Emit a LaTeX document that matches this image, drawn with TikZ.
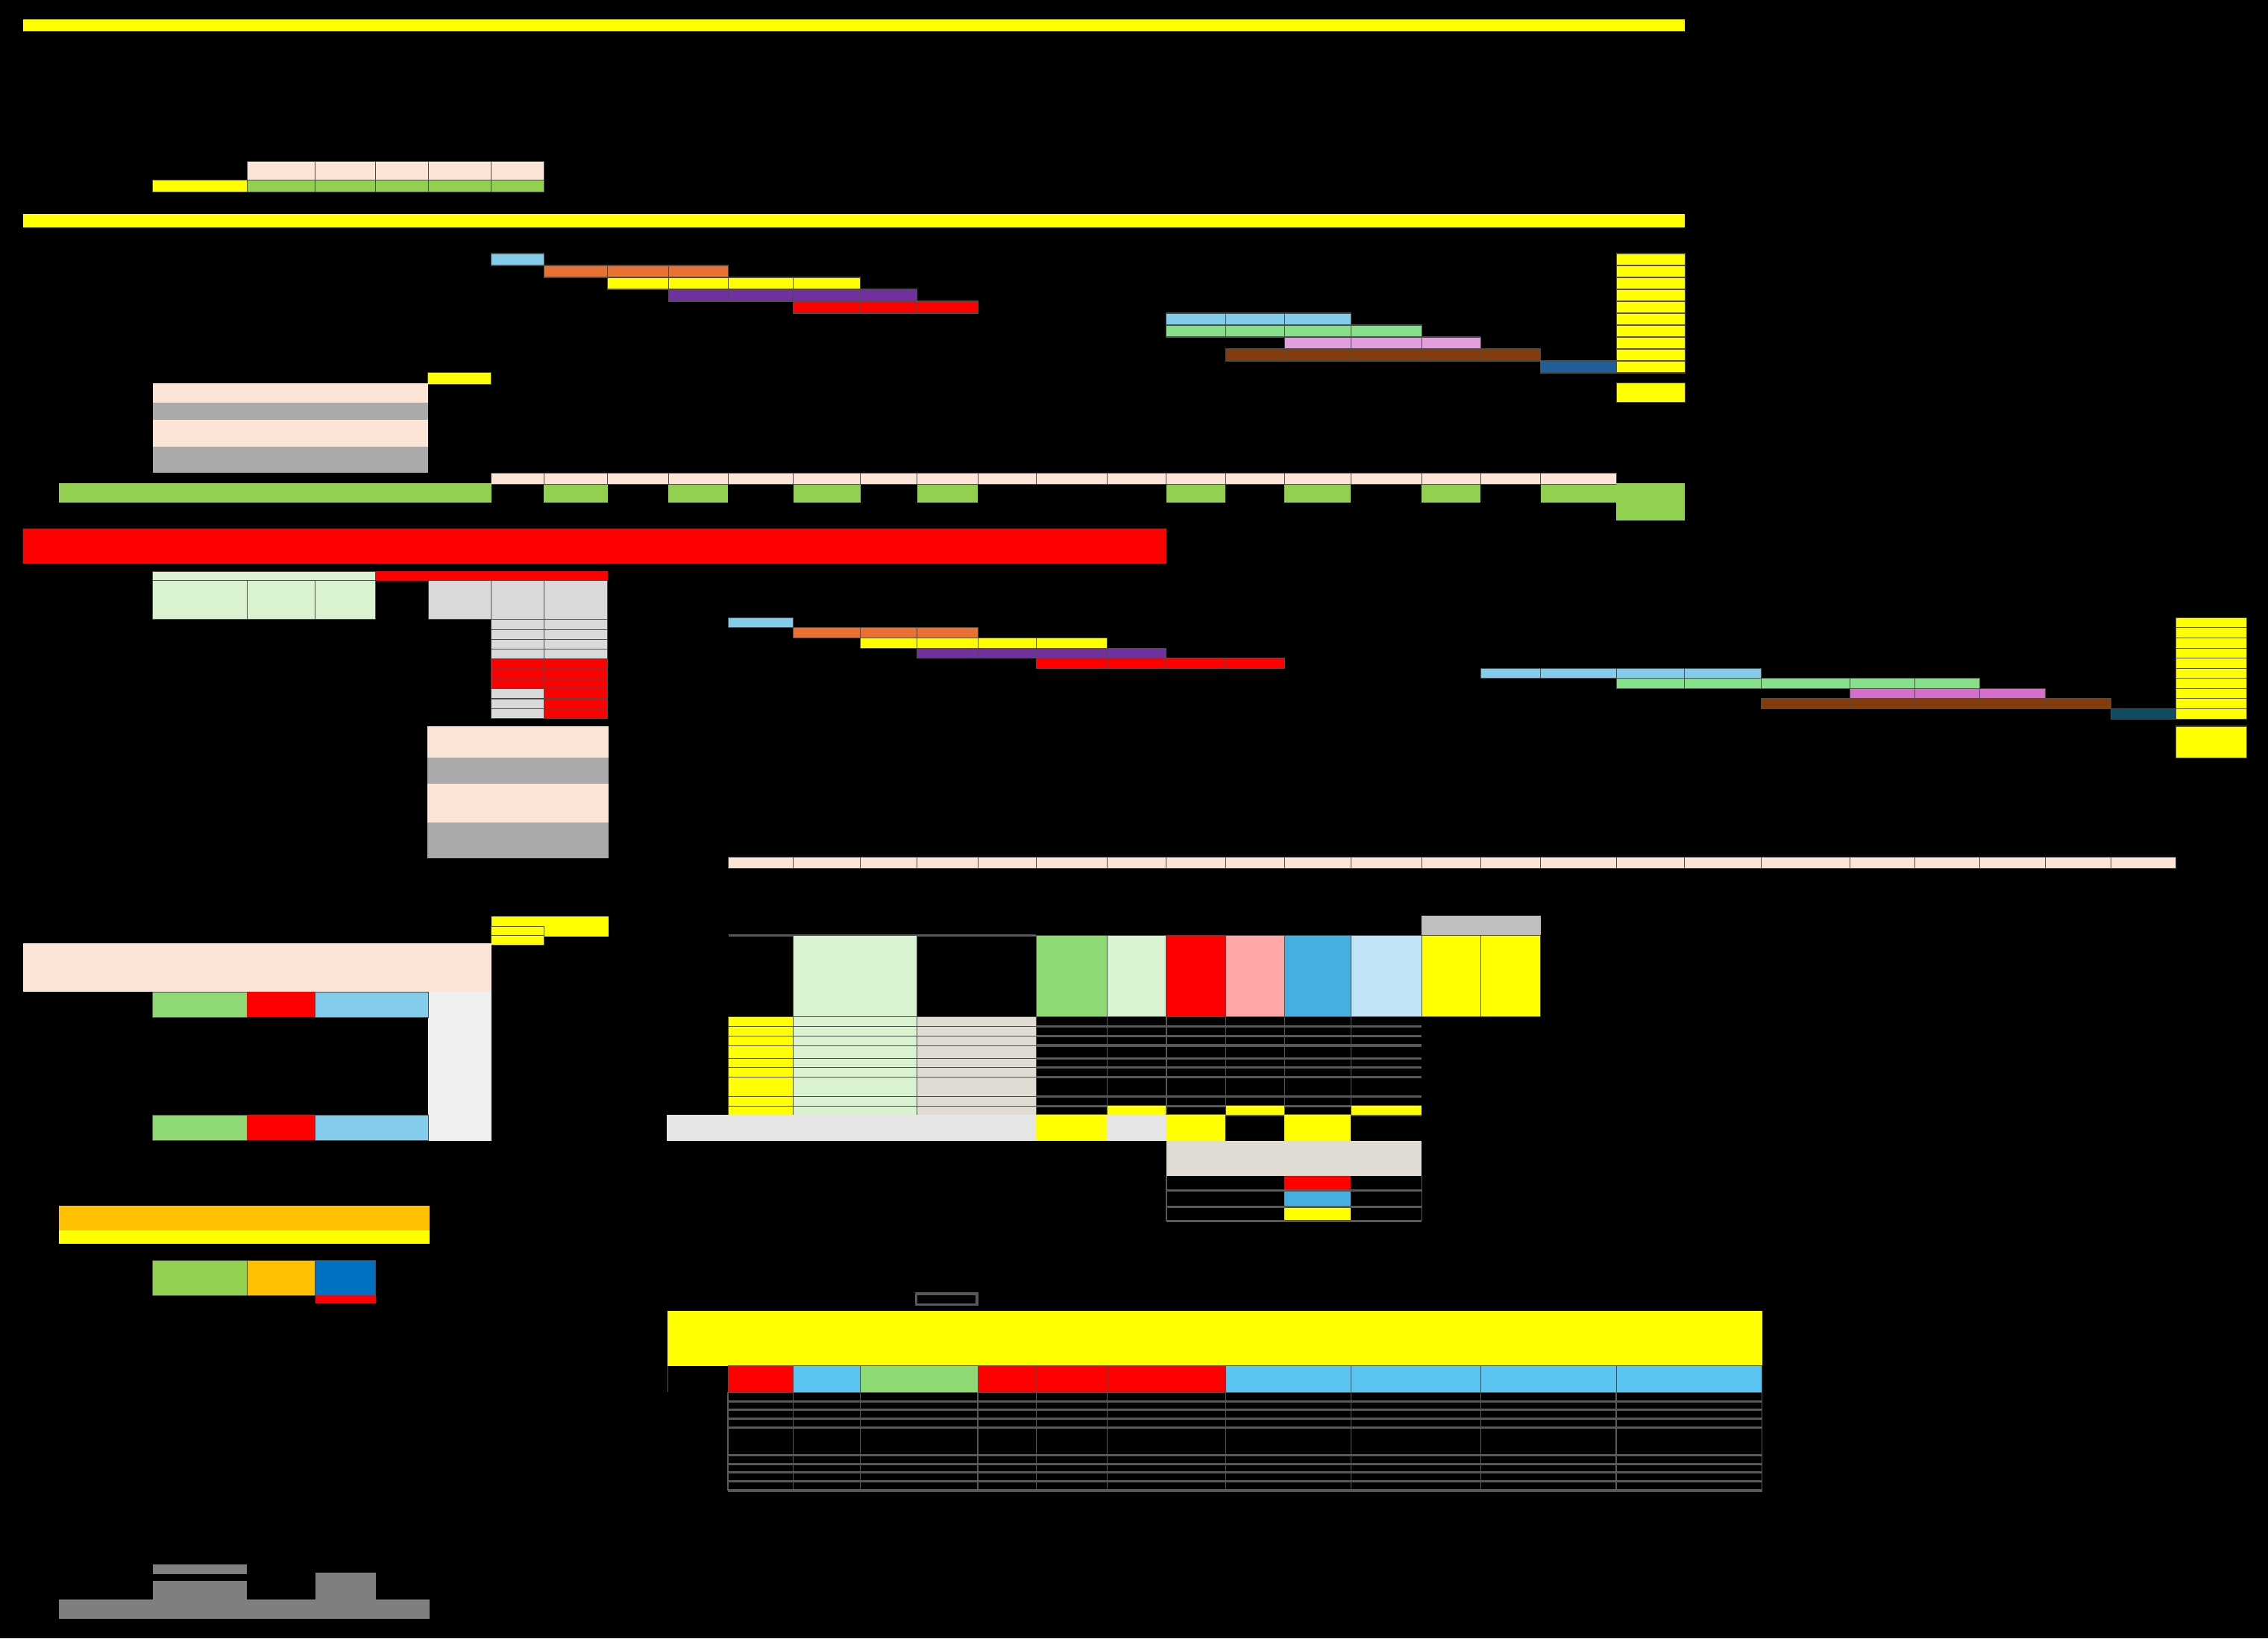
\documentclass[tikz,border=0pt]{standalone}
\definecolor{peach}{HTML}{FCE4D6}
\definecolor{lime}{HTML}{92D050}
\definecolor{yel}{HTML}{FFFF00}
\definecolor{skyb}{HTML}{83CCEB}
\definecolor{orng}{HTML}{E97132}
\definecolor{purp}{HTML}{7030A0}
\definecolor{mint}{HTML}{86E08A}
\definecolor{orchid}{HTML}{E49EDD}
\definecolor{orchidb}{HTML}{D86ECC}
\definecolor{brwn}{HTML}{843C0C}
\definecolor{navy}{HTML}{215F9A}
\definecolor{teal}{HTML}{0F4C66}
\definecolor{midgray}{HTML}{AAAAAA}
\definecolor{ltgray}{HTML}{D9D9D9}
\definecolor{palegreen}{HTML}{D9F2D0}
\definecolor{whitegray}{HTML}{F0F0F0}
\definecolor{bargray}{HTML}{E6E6E6}
\definecolor{beige}{HTML}{E0DCD3}
\definecolor{rose}{HTML}{FFA7A7}
\definecolor{ocean}{HTML}{44B0E0}
\definecolor{paleblue}{HTML}{C0E4F5}
\definecolor{silver}{HTML}{BFBFBF}
\definecolor{cyanb}{HTML}{5BC5F2}
\definecolor{gold}{HTML}{FFC000}
\definecolor{royal}{HTML}{0070C0}
\definecolor{darkgray}{HTML}{7F7F7F}
\definecolor{gridgray}{HTML}{595959}
\definecolor{grass}{HTML}{8ED973}
\tikzset{
  cell/.style={draw=black!70, line width=0.3pt},
  flat/.style={draw=none},
  gridline/.style={draw=gridgray, line width=0.9pt}
}
\begin{document}
\begin{tikzpicture}[x=0.02cm,y=-0.02cm]
    % fundo
    \fill[black] (0,0) rectangle (1568,1133);
    % bloco 1
    \fill[yel] (16,13.4) rectangle (1165,21.9);
    \foreach \a/\b in {170.7/218,218/259.7,259.7/296,296/339.7,339.7/376} {
      \draw[cell,fill=peach] (\a,111.5) rectangle (\b,124.3);
      \draw[cell,fill=lime] (\a,124.3) rectangle (\b,133);
    }
    \draw[cell,fill=yel] (105.5,124.3) rectangle (170.7,133);
    \fill[yel] (16,147.8) rectangle (1165,157.3);
    % cronograma 1
    \draw[cell,fill=skyb] (339.7,175.3) rectangle (376,183.55);
    \foreach \a/\b in {376/420,420/462,462/503.3}
      \draw[cell,fill=orng] (\a,183.55) rectangle (\b,191.8);
    \foreach \a/\b in {420/462,462/503.3,503.3/548.4,548.4/594.8}
      \draw[cell,fill=yel] (\a,191.8) rectangle (\b,200.05);
    \foreach \a/\b in {462/503.3,503.3/548.4,548.4/594.8,594.8/634}
      \draw[cell,fill=purp] (\a,200.05) rectangle (\b,208.3);
    \foreach \a/\b in {548.4/594.8,594.8/634,634/676}
      \draw[cell,fill=red] (\a,208.3) rectangle (\b,216.55);
    \foreach \a/\b in {806.4/847.3,847.3/888,888/934}
      \draw[cell,fill=skyb] (\a,216.55) rectangle (\b,224.8);
    \foreach \a/\b in {806.4/847.3,847.3/888,888/934,934/983}
      \draw[cell,fill=mint] (\a,224.8) rectangle (\b,233.05);
    \foreach \a/\b in {888/934,934/983,983/1023.6}
      \draw[cell,fill=orchid] (\a,233.05) rectangle (\b,241.3);
    \foreach \a/\b in {847.3/888,888/934,934/983,983/1023.6,1023.6/1065}
      \draw[cell,fill=brwn] (\a,241.3) rectangle (\b,249.55);
    \draw[cell,fill=navy] (1065,249.55) rectangle (1117.4,257.8);
    \foreach \k in {0,...,9}
      \draw[cell,fill=yel] (1117.4,{175.3+8.25*\k}) rectangle (1165,{183.55+8.25*\k});
    \draw[cell,fill=yel] (1117.4,265) rectangle (1165,278.4);
    \draw[cell,fill=yel] (295.6,257.4) rectangle (339.7,266);
    % pilha da esquerda
    \fill[peach] (105.5,265) rectangle (296,278.5);
    \fill[midgray] (105.5,278.5) rectangle (296,290.5);
    \fill[peach] (105.5,290.5) rectangle (296,309);
    \fill[midgray] (105.5,309) rectangle (296,327);
    % linha de dias
    \foreach \a/\b in {339.7/376,376/420,420/462,462/503.3,503.3/548.4,548.4/594.8,594.8/634,634/676,676/716.4,716.4/765.3,765.3/806.4,806.4/847.3,847.3/888,888/934,934/983,983/1023.6,1023.6/1065,1065/1117.4}
      \draw[cell,fill=peach] (\a,327) rectangle (\b,335);
    \foreach \a/\b in {376/420,462/503.3,548.4/594.8,634/676,806.4/847.3,888/934,983/1023.6,1065/1117.4}
      \fill[lime] (\a,335) rectangle (\b,347.5);
    \fill[lime] (40.7,334.2) rectangle (339.7,347.6);
    \fill[lime] (1117.4,334) rectangle (1165,360);
    % bloco 2
    \fill[red] (16,365.4) rectangle (806.4,389.6);
    \draw[cell,fill=palegreen] (105.5,395) rectangle (259.7,401.5);
    \fill[red] (259.7,395) rectangle (420,401.5);
    \foreach \a/\b in {105.5/170.7,170.7/218,218/259.7}
      \draw[cell,fill=palegreen] (\a,401.5) rectangle (\b,428.4);
    \foreach \a/\b in {296/339.7,339.7/376,376/420}
      \draw[cell,fill=ltgray] (\a,401.5) rectangle (\b,428.4);
    \foreach \k in {0,...,9} {
      \pgfmathsetmacro{\ya}{428.4+6.84*\k}
      \pgfmathsetmacro{\yb}{435.24+6.84*\k}
      \ifnum\k<4 \def\cl{ltgray}\def\cr{ltgray}\else
        \ifnum\k<7 \def\cl{red}\def\cr{red}\else \def\cl{ltgray}\def\cr{red}\fi\fi
      \draw[cell,fill=\cl] (339.7,\ya) rectangle (376,\yb);
      \draw[cell,fill=\cr] (376,\ya) rectangle (420,\yb);
    }
    \fill[peach] (295.6,502) rectangle (420.5,523.7);
    \fill[midgray] (295.6,523.7) rectangle (420.5,541.8);
    \fill[peach] (295.6,541.8) rectangle (420.5,568.7);
    \fill[midgray] (295.6,568.7) rectangle (420.5,593.5);
    % cronograma 2
    \draw[cell,fill=skyb] (503.5,427.1) rectangle (548.4,434.1);
    \foreach \a/\b in {548.4/594.8,594.8/634,634/676}
      \draw[cell,fill=orng] (\a,434.1) rectangle (\b,441.1);
    \foreach \a/\b in {594.8/634,634/676,676/716.4,716.4/765.3}
      \draw[cell,fill=yel] (\a,441.1) rectangle (\b,448.1);
    \foreach \a/\b in {634/676,676/716.4,716.4/765.3,765.3/806.4}
      \draw[cell,fill=purp] (\a,448.1) rectangle (\b,455.1);
    \foreach \a/\b in {716.4/765.3,765.3/806.4,806.4/847.3,847.3/888}
      \draw[cell,fill=red] (\a,455.1) rectangle (\b,462.1);
    \foreach \a/\b in {1023.6/1065,1065/1117.4,1117.4/1164.4,1164.4/1217.4}
      \draw[cell,fill=skyb] (\a,462.1) rectangle (\b,469.1);
    \foreach \a/\b in {1117.4/1164.4,1164.4/1217.4,1217.4/1278.9,1278.9/1323.8,1323.8/1368.6}
      \draw[cell,fill=mint] (\a,469.1) rectangle (\b,476.1);
    \foreach \a/\b in {1278.9/1323.8,1323.8/1368.6,1368.6/1413.9}
      \draw[cell,fill=orchidb] (\a,476.1) rectangle (\b,483.1);
    \foreach \a/\b in {1217.4/1278.9,1278.9/1323.8,1323.8/1368.6,1368.6/1413.9,1413.9/1459.4}
      \draw[cell,fill=brwn] (\a,483.1) rectangle (\b,490.1);
    \draw[cell,fill=teal] (1459.4,490.1) rectangle (1504.2,497.1);
    \foreach \k in {0,...,9}
      \draw[cell,fill=yel] (1504.2,{427.1+7*\k}) rectangle (1553.4,{434.1+7*\k});
    \draw[cell,fill=yel] (1504.2,502.2) rectangle (1553.4,523.9);
    \foreach \a/\b in {503.5/548.4,548.4/594.8,594.8/634,634/676,676/716.4,716.4/765.3,765.3/806.4,806.4/847.3,847.3/888,888/934,934/983,983/1023.6,1023.6/1065,1065/1117.4,1117.4/1164.4,1164.4/1217.4,1217.4/1278.9,1278.9/1323.8,1323.8/1368.6,1368.6/1413.9,1413.9/1459.4,1459.4/1504.2}
      \draw[cell,fill=peach] (\a,592.8) rectangle (\b,600.6);
    % bloco 3, esquerda
    \fill[yel] (339.7,633.7) rectangle (420.5,647.7);
    \draw[cell,fill=yel] (339.7,640.5) rectangle (376,647);
    \draw[cell,fill=yel] (339.7,647) rectangle (376,653.4);
    \fill[peach] (16,652.5) rectangle (339.7,686);
    \fill[whitegray] (296,686) rectangle (339.7,789);
    \foreach \y/\z in {686/703.4,771/788.6} {
      \draw[cell,fill=grass] (105.5,\y) rectangle (170.7,\z);
      \fill[red] (170.7,\y) rectangle (218,\z);
      \draw[cell,fill=skyb] (218,\y) rectangle (296,\z);
    }
    % bloco 3, tabela
    \draw[gridline] (503.7,646.8) -- (716.4,646.8);
    \fill[silver] (983,633.3) rectangle (1065,646.8);
    \draw[cell,fill=palegreen] (548.4,646.8) rectangle (634,703);
    \foreach \a/\b/\c in {716.4/765.3/grass,765.3/806.4/palegreen,806.4/847.3/red,847.3/888/rose,888/934/ocean,934/983/paleblue,983/1023.6/yel,1023.6/1065/yel}
      \draw[cell,fill=\c] (\a,646.8) rectangle (\b,703);
    \foreach \ya/\yb in {703/709.9,709.9/716.4,716.4/722.9,722.9/731.8,731.8/738.2,738.2/744.7,744.7/758.1,758.1/764.7,764.7/771} {
      \draw[cell,fill=yel] (503.7,\ya) rectangle (548.4,\yb);
      \draw[cell,fill=palegreen] (548.4,\ya) rectangle (634,\yb);
      \draw[cell,fill=beige] (634,\ya) rectangle (716.4,\yb);
      \draw[gridline] (716.4,\yb) -- (983,\yb);
    }
    \foreach \a/\b in {765.3/806.4,847.3/888,934/983}
      \fill[yel] (\a,764.7) rectangle (\b,771);
    \foreach \x in {716.4,765.3,806.4,847.3,888,934}
      \draw[draw=gridgray, line width=0.4pt] (\x,703) -- (\x,771);
    \fill[bargray] (461,771) rectangle (716.4,789);
    \foreach \a/\b/\c in {716.4/765.3/yel,765.3/806.4/bargray,806.4/847.3/yel,888/934/yel}
      \fill[\c] (\a,771) rectangle (\b,789);
    \fill[beige] (806.4,789) rectangle (983,813);
    \foreach \ya/\yb/\c in {813/823.3/red,823.3/834.4/ocean,834.4/844.2/yel}
      \fill[\c] (888,\ya) rectangle (934,\yb);
    \foreach \y in {823.3,834.4,844.2}
      \draw[gridline] (806.4,\y) -- (983,\y);
    \foreach \x in {806.4,983}
      \draw[draw=gridgray, line width=0.4pt] (\x,813) -- (\x,844.2);
    % bloco 4, esquerda
    \fill[gold] (40.7,833.8) rectangle (297,851);
    \fill[yel] (40.7,851) rectangle (297,859.8);
    \draw[cell,fill=lime] (105.5,871.7) rectangle (170.8,895.7);
    \draw[cell,fill=gold] (170.8,871.7) rectangle (218,895.7);
    \draw[cell,fill=royal] (218,871.7) rectangle (259.7,895.7);
    \fill[red] (218,895.7) rectangle (259.7,901.4);
    \fill[darkgray] (105.5,1081.5) rectangle (170.7,1088.5);
    \fill[darkgray] (105.5,1093) rectangle (170.7,1106);
    \fill[darkgray] (218,1087.5) rectangle (259.7,1106);
    \fill[darkgray] (40.7,1106) rectangle (297,1119.4);
    % bloco 4, tabela
    \draw[draw=gridgray, line width=1pt, fill=black] (633.5,894.6) rectangle (675.5,902);
    \fill[yel] (461.7,906.3) rectangle (1218.2,944.5);
    \draw[draw=gridgray, line width=0.4pt] (461.7,944.5) -- (461.7,962.8);
    \foreach \a/\b/\c in {503.3/548.4/red,548.4/594.8/cyanb,594.8/676/grass,676/716.4/red,716.4/765.3/red,765.3/847.3/red,847.3/934/cyanb,934/1023.6/cyanb,1023.6/1117.4/cyanb,1117.4/1218.2/cyanb}
      \draw[cell,fill=\c] (\a,944.5) rectangle (\b,962.8);
    \foreach \y in {968.9,974.9,980.9,987.3,1006,1012.3,1018.2,1024.4,1030.7}
      \draw[gridline] (503.3,\y) -- (1218.2,\y);
    \foreach \x in {503.3,548.4,594.8,676,716.4,765.3,847.3,934,1023.6,1117.4,1218.2}
      \draw[draw=gridgray, line width=0.4pt] (\x,962.8) -- (\x,1030.7);
\end{tikzpicture}
\end{document}
